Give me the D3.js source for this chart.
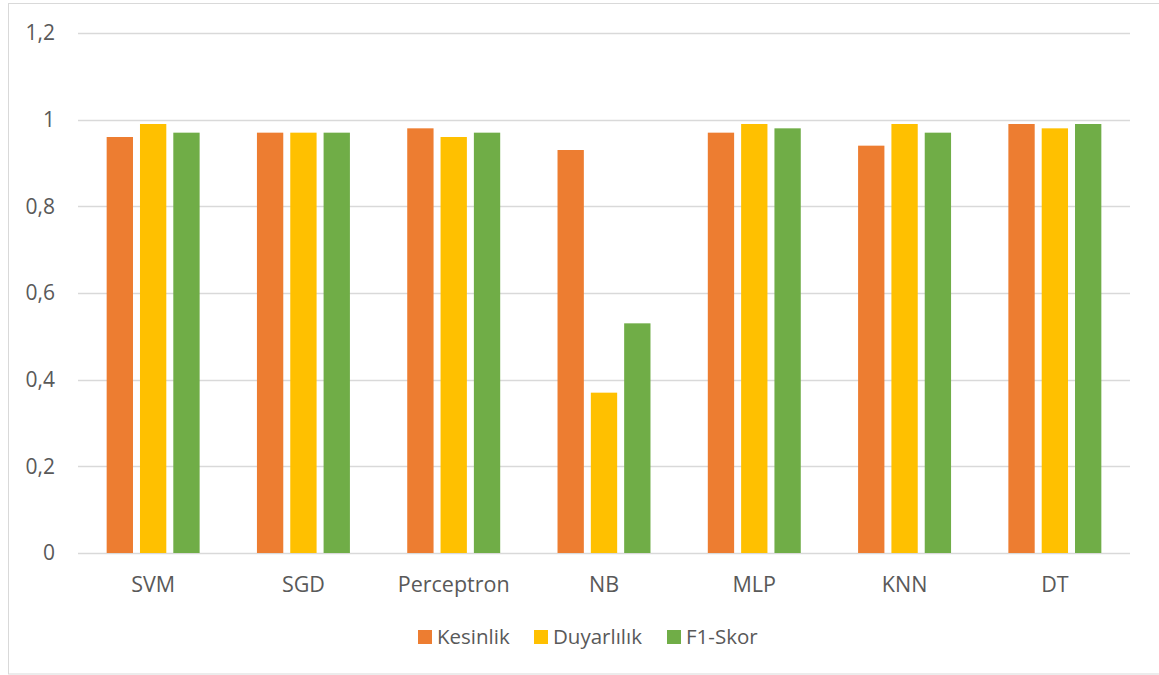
<!DOCTYPE html>
<html>
<head>
<meta charset="utf-8">
<script src="https://cdn.jsdelivr.net/npm/d3@7"></script>
<style>
  body { margin: 0; background: #fff; }
  text { font-family: "Open Sans", sans-serif; fill: #595959; }
</style>
</head>
<body>
<div id="chart"></div>
<script>
var categories = ["SVM", "SGD", "Perceptron", "NB", "MLP", "KNN", "DT"];
var seriesNames = ["Kesinlik", "Duyarlılık", "F1-Skor"];
var kesinlik = [0.96, 0.97, 0.98, 0.93, 0.97, 0.94, 0.99];
var duyarlilik = [0.99, 0.97, 0.96, 0.37, 0.99, 0.99, 0.98];
var f1Skor = [0.97, 0.97, 0.97, 0.53, 0.98, 0.97, 0.99];
var yTicks = [0, 0.2, 0.4, 0.6, 0.8, 1, 1.2];
var colors = ["#ED7D31", "#FFC000", "#70AD47"];

var seriesValues = [kesinlik, duyarlilik, f1Skor];

var width = 1159, height = 675;
var margin = { top: 33, right: 29, bottom: 122, left: 78 };

var svg = d3.select("#chart").append("svg")
    .attr("width", width)
    .attr("height", height);

// chart border
svg.append("rect")
    .attr("x", 8.5).attr("y", 3.5)
    .attr("width", width).attr("height", 670.5)
    .attr("fill", "none")
    .attr("stroke", "#d9d9d9");

var x0 = d3.scaleBand()
    .domain(categories)
    .range([margin.left, width - margin.right])
    .padding(0);

var x1 = d3.scaleBand()
    .domain(seriesNames)
    .range([0, x0.bandwidth()])
    .paddingInner(0.21)
    .paddingOuter(0.86);

var y = d3.scaleLinear()
    .domain([0, 1.2])
    .range([height - margin.bottom, margin.top]);

// gridlines
svg.append("g")
    .selectAll("line")
    .data(yTicks)
    .enter()
    .append("line")
    .attr("x1", margin.left)
    .attr("x2", width - margin.right)
    .attr("y1", function (d) { return Math.round(y(d)) + 0.5; })
    .attr("y2", function (d) { return Math.round(y(d)) + 0.5; })
    .attr("stroke", "#d9d9d9")
    .attr("stroke-width", 1.5);

// y labels
svg.append("g")
    .selectAll("text")
    .data(yTicks)
    .enter()
    .append("text")
    .attr("x", 55)
    .attr("y", function (d) { return y(d); })
    .attr("dy", "0.35em")
    .attr("text-anchor", "end")
    .style("font-size", "21px")
    .text(function (d) { return String(d).replace(".", ","); });

// bars
var groups = svg.append("g")
    .selectAll("g")
    .data(categories)
    .enter()
    .append("g")
    .attr("transform", function (d) { return "translate(" + x0(d) + ",0)"; });

groups.selectAll("rect")
    .data(function (d, i) {
        return seriesNames.map(function (s, j) { return { key: s, value: seriesValues[j][i], idx: j }; });
    })
    .enter()
    .append("rect")
    .attr("x", function (d) { return x1(d.key); })
    .attr("y", function (d) { return y(d.value); })
    .attr("width", x1.bandwidth())
    .attr("height", function (d) { return y(0) - y(d.value); })
    .attr("fill", function (d) { return colors[d.idx]; });

// x labels
svg.append("g")
    .selectAll("text")
    .data(categories)
    .enter()
    .append("text")
    .attr("x", function (d) { return x0(d) + x0.bandwidth() / 2; })
    .attr("y", y(0) + 31)
    .attr("dy", "0.35em")
    .attr("text-anchor", "middle")
    .style("font-size", "21.5px")
    .text(function (d) { return d; });

// legend
var legendX = [418, 534, 667];
var legend = svg.append("g")
    .selectAll("g")
    .data(seriesNames)
    .enter()
    .append("g")
    .attr("transform", function (d, i) { return "translate(" + legendX[i] + ",637)"; });

legend.append("rect")
    .attr("x", 0).attr("y", -7)
    .attr("width", 14).attr("height", 14)
    .attr("fill", function (d, i) { return colors[i]; });

legend.append("text")
    .attr("x", 19)
    .attr("y", 0)
    .attr("dy", "0.35em")
    .style("font-size", "20.5px")
    .text(function (d) { return d; });
</script>
</body>
</html>
